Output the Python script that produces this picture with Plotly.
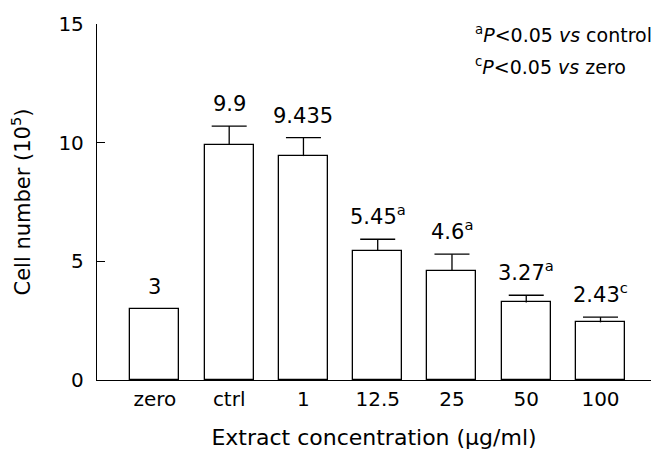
import plotly.graph_objects as go

categories = ["zero", "ctrl", "1", "12.5", "25", "50", "100"]
means = [3, 9.9, 9.435, 5.45, 4.6, 3.27, 2.43]
errors = [0, 0.8, 0.78, 0.48, 0.7, 0.3, 0.22]
marks = ["", "", "", "a", "a", "a", "c"]
y_ticks = [0, 5, 10, 15]
notes = [("a", "P", "<0.05 ", "vs", " control"), ("c", "P", "<0.05 ", "vs", " zero")]

FONT = "DejaVu Sans"
xs = list(range(len(categories)))
tops = [m + e for m, e in zip(means, errors)]

fig = go.Figure()
fig.add_trace(go.Bar(
    x=xs, y=means,
    width=0.66,
    marker=dict(color="white", line=dict(color="black", width=1.3)),
    showlegend=False, hoverinfo="skip",
))

# error bars: stems from bar top upwards, plus a cap at the top
stem_x, stem_y = [], []
for x, m, t, e in zip(xs, means, tops, errors):
    if e > 0:
        stem_x += [x, x, None]
        stem_y += [m, t, None]
fig.add_trace(go.Scatter(x=stem_x, y=stem_y, mode="lines",
                         line=dict(color="black", width=1.3),
                         showlegend=False, hoverinfo="skip"))
cap_x = [x for x, e in zip(xs, errors) if e > 0]
cap_y = [t for t, e in zip(tops, errors) if e > 0]
fig.add_trace(go.Scatter(x=cap_x, y=cap_y, mode="markers",
                         marker=dict(symbol="line-ew-open", size=25, color="black",
                                     line=dict(color="black", width=1.3)),
                         showlegend=False, hoverinfo="skip"))

for x, t, m, s in zip(xs, tops, means, marks):
    label = f"{m:g}" + (f"<sup>{s}</sup>" if s else "")
    fig.add_annotation(x=x, y=t, text=label, showarrow=False,
                       xanchor="center", yanchor="bottom", yshift=8,
                       font=dict(family=FONT, size=21, color="black"))

for k, (sup, p, mid, vs, rest) in enumerate(notes):
    fig.add_annotation(xref="paper", yref="paper", x=0.679, y=0.971 - k * 0.089,
                       text=f"<sup>{sup}</sup><i>{p}</i>{mid}<i>{vs}</i>{rest}",
                       showarrow=False, xanchor="left", yanchor="middle",
                       font=dict(family=FONT, size=19, color="black"))

fig.update_layout(
    width=665, height=464,
    margin=dict(l=97, r=14, t=20, b=84),
    plot_bgcolor="white", paper_bgcolor="white",
    bargap=0,
    font=dict(family=FONT, size=20, color="black"),
)
fig.update_xaxes(
    range=[-0.78, 6.68],
    tickmode="array", tickvals=xs, ticktext=categories,
    showline=True, linecolor="black", linewidth=1.3,
    ticks="", showgrid=False, zeroline=False,
    tickfont=dict(family=FONT, size=20),
    ticklabelstandoff=1,
    title=dict(text="Extract concentration (μg/ml)", font=dict(family=FONT, size=22), standoff=19),
)
fig.update_yaxes(
    range=[0, 15],
    tickmode="array", tickvals=y_ticks,
    showline=True, linecolor="black", linewidth=1.3,
    ticks="inside", ticklen=8, tickwidth=1.3, tickcolor="black",
    showgrid=False, zeroline=False,
    tickfont=dict(family=FONT, size=20),
    ticklabelstandoff=8,
    title=dict(text="Cell number (10<sup>5</sup>)", font=dict(family=FONT, size=21), standoff=22),
)

fig.write_html("out.html", config={"displayModeBar": False},
               post_script="document.body.style.margin='0';document.body.style.padding='0';")
